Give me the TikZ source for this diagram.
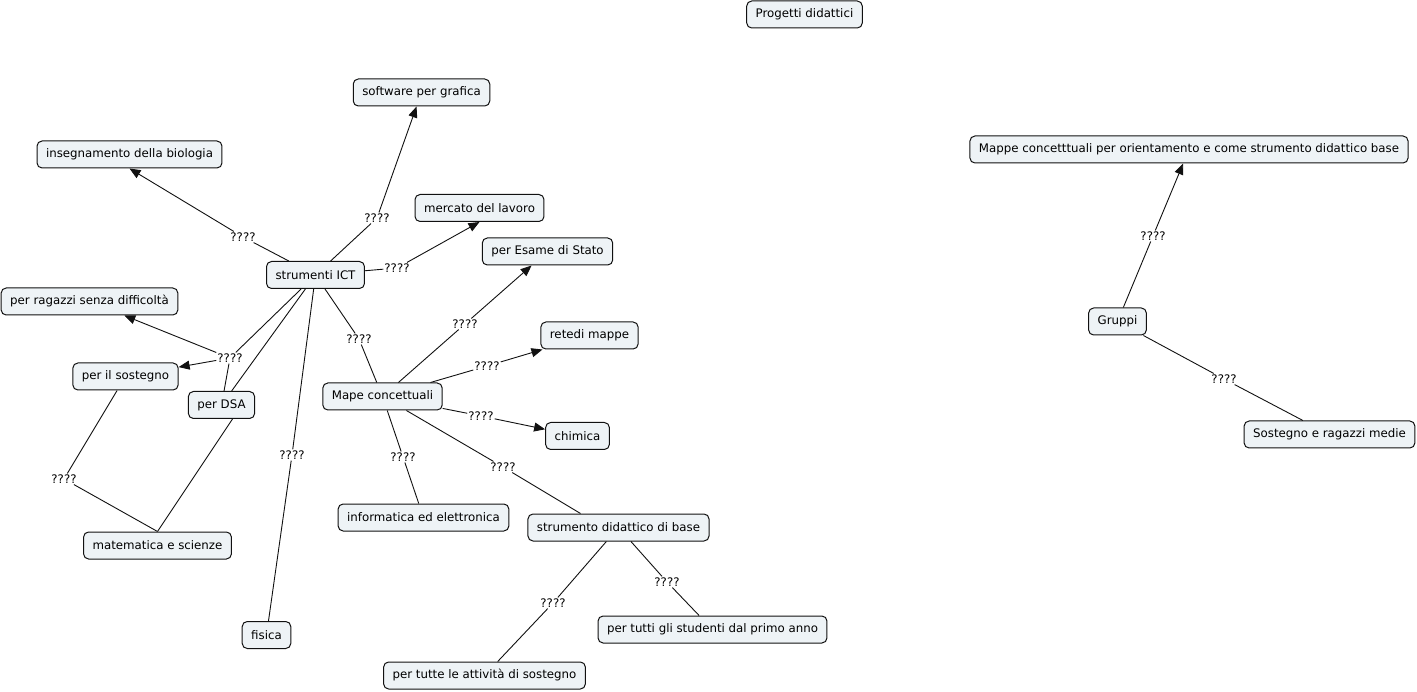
\documentclass[tikz,border=0pt]{standalone}
\usepackage{fontspec}
\setmainfont{DejaVu Sans}
\usepackage{xcolor}
\definecolor{cmfill}{HTML}{EEF3F6}
\definecolor{cmline}{HTML}{111111}
\usetikzlibrary{arrows.meta}

\begin{document}
\begin{tikzpicture}[x=1pt, y=-1pt,
  concept/.style={draw=cmline, line width=1pt, fill=cmfill, rounded corners=5pt,
                  minimum height=27pt, inner xsep=9pt,
                  font=\fontsize{11.8}{14}\selectfont},
  phrase/.style={fill=white, inner sep=1pt, font=\fontsize{11.8}{14}\selectfont},
  ln/.style={draw=cmline, line width=0.9pt},
  arr/.style={ln, -{Triangle[length=11pt, width=9pt]}}
]
  \useasboundingbox (0,0) rectangle (1417,692);

  % concepts
  \node[concept] (prog) at (804.5,14.5) {Progetti didattici};
  \node[concept] (soft) at (421.5,92.5) {software per grafica};
  \node[concept] (bio) at (129.5,154.5) {insegnamento della biologia};
  \node[concept] (merc) at (479.5,208) {mercato del lavoro};
  \node[concept] (esame) at (547.5,251.5) {per Esame di Stato};
  \node[concept] (ict) at (315.5,275) {strumenti ICT};
  \node[concept] (ragazzi) at (89.5,301.5) {per ragazzi senza difficoltà};
  \node[concept] (rete) at (589.5,335.5) {retedi mappe};
  \node[concept] (sost) at (125.5,376.5) {per il sostegno};
  \node[concept] (dsa) at (221.5,405) {per DSA};
  \node[concept] (mape) at (382.5,396.5) {Mape concettuali};
  \node[concept] (chim) at (577.5,436) {chimica};
  \node[concept] (info) at (423.5,517.5) {informatica ed elettronica};
  \node[concept] (strum) at (618.5,527.5) {strumento didattico di base};
  \node[concept] (mat) at (157.5,545.5) {matematica e scienze};
  \node[concept] (fis) at (266.5,635) {fisica};
  \node[concept] (tutti) at (712.5,629.5) {per tutti gli studenti dal primo anno};
  \node[concept] (tutte) at (484.5,675.5) {per tutte le attività di sostegno};
  \node[concept] (orient) at (1189,149.5) {Mappe concetttuali per orientamento e come strumento didattico base};
  \node[concept] (grp) at (1117.5,321.5) {Gruppi};
  \node[concept] (medie) at (1329.5,434.5) {Sostegno e ragazzi medie};

  % linking phrases
  \node[phrase] (l1) at (243,237) {????};
  \node[phrase] (l2) at (377,218) {????};
  \node[phrase] (l3) at (397,268) {????};
  \node[phrase] (l4) at (359,339) {????};
  \node[phrase] (l5) at (230,358) {????};
  \node[phrase] (l6) at (292,455) {????};
  \node[phrase] (l7) at (64,479) {????};
  \node[phrase] (l8) at (465,324) {????};
  \node[phrase] (l9) at (487,366) {????};
  \node[phrase] (l10) at (481,416) {????};
  \node[phrase] (l11) at (403,457) {????};
  \node[phrase] (l12) at (503,467) {????};
  \node[phrase] (l13) at (667,582) {????};
  \node[phrase] (l14) at (553,603) {????};
  \node[phrase] (l15) at (1153,236) {????};
  \node[phrase] (l16) at (1224,379) {????};

  % connections
  \draw[ln] (ict) -- (l1);
  \draw[arr] (l1) -- (bio.south);
  \draw[ln] (ict) -- (l2);
  \draw[arr] (l2) -- (soft);
  \draw[ln] (ict) -- (l3);
  \draw[arr] (l3) -- (merc.south);
  \draw[ln] (ict) -- (l4);
  \draw[ln] (l4) -- (mape);
  \draw[ln] (ict) -- (l5);
  \draw[ln] (dsa) -- (l5);
  \draw[arr] (l5) -- (ragazzi);
  \draw[arr] (l5) -- (sost);
  \draw[ln] (ict) -- (dsa);
  \draw[ln] (ict) -- (l6);
  \draw[ln] (l6) -- (fis);
  \draw[ln] (sost) -- (l7);
  \draw[ln] (l7) -- (mat.north);
  \draw[ln] ([xshift=11pt]dsa.south) -- (mat.north);
  \draw[ln] (mape) -- (l8);
  \draw[arr] (l8) -- (esame);
  \draw[ln] (mape) -- (l9);
  \draw[arr] (l9) -- (rete);
  \draw[ln] (mape) -- (l10);
  \draw[arr] (l10) -- (chim);
  \draw[ln] (mape) -- (l11);
  \draw[ln] (l11) -- (info);
  \draw[ln] (mape) -- (l12);
  \draw[ln] (l12) -- ([xshift=-38pt]strum.north);
  \draw[ln] (strum) -- (l13);
  \draw[ln] (l13) -- (tutti);
  \draw[ln] (strum) -- (l14);
  \draw[ln] (l14) -- (tutte);
  \draw[ln] (grp) -- (l15);
  \draw[arr] (l15) -- (orient);
  \draw[ln] (grp) -- (l16);
  \draw[ln] (l16) -- (medie);
\end{tikzpicture}
\end{document}
